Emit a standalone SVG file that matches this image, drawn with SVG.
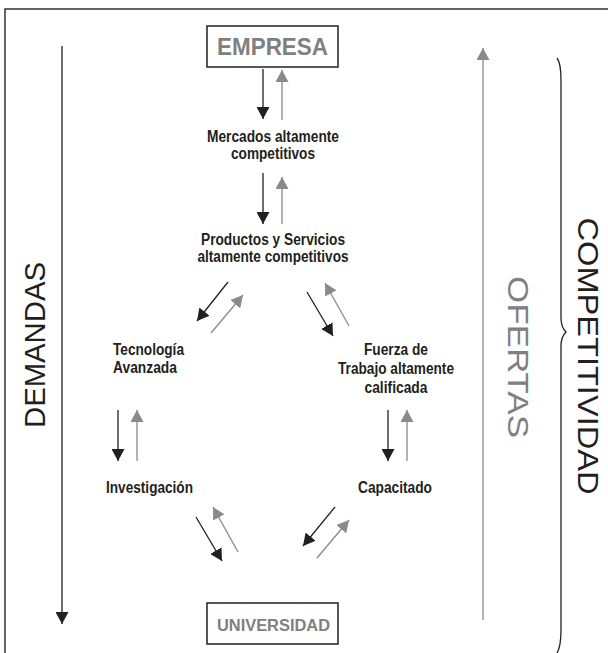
<svg xmlns="http://www.w3.org/2000/svg" width="608" height="653" viewBox="0 0 608 653">
  <defs>
    <marker id="hb" markerUnits="userSpaceOnUse" markerWidth="13" markerHeight="13" refX="12" refY="6.5" orient="auto">
      <path d="M0,0 L12,6.5 L0,13 z" fill="#231f20"/>
    </marker>
    <marker id="hg" markerUnits="userSpaceOnUse" markerWidth="13" markerHeight="13" refX="12" refY="6.5" orient="auto">
      <path d="M0,0 L12,6.5 L0,13 z" fill="#8a8a8a"/>
    </marker>
  </defs>
  <style>
    .bk { stroke: #231f20; stroke-width: 1.3; fill: none; marker-end: url(#hb); }
    .gy { stroke: #8a8a8a; stroke-width: 1.3; fill: none; marker-end: url(#hg); }
    .lbl { font-family: "Liberation Sans", Arial, sans-serif; font-weight: bold; font-size: 16px; fill: #231f20; }
    .box { fill: #ffffff; stroke: #231f20; stroke-width: 1.5; }
    .boxt { font-family: "Liberation Sans", Arial, sans-serif; font-weight: bold; fill: #808080; text-anchor: middle; }
    .big { font-family: "Liberation Sans", Arial, sans-serif; font-size: 30px; text-anchor: middle; }
  </style>
  <rect width="608" height="653" fill="#ffffff"/>
  <path d="M5,653 L5,9 L608,9" fill="none" stroke="#333333" stroke-width="1.5"/>

  <g id="side">
    <line class="bk" x1="62" y1="46" x2="62" y2="624"/>
    <text class="big" fill="#231f20" transform="translate(45,345) rotate(-90)" textLength="166" lengthAdjust="spacingAndGlyphs">DEMANDAS</text>
    <line class="gy" x1="483" y1="620" x2="483" y2="48"/>
    <text class="big" fill="#808080" transform="translate(508,357) rotate(90)" textLength="162" lengthAdjust="spacingAndGlyphs">OFERTAS</text>
    <path d="M557,58 C560,62 561,68 561,80 L561,318 C561,325 563,329 566,332 C563,335 561,339 561,346 L561,630 C561,642 560,648 557,653" fill="none" stroke="#231f20" stroke-width="1.3"/>
    <text class="big" fill="#231f20" transform="translate(578,356) rotate(90)" textLength="277" lengthAdjust="spacingAndGlyphs">COMPETITIVIDAD</text>
  </g>

  <g id="empresa">
    <rect class="box" x="207" y="26" width="131" height="41"/>
    <text class="boxt" x="272.5" y="55" font-size="23" textLength="111" lengthAdjust="spacingAndGlyphs">EMPRESA</text>
  </g>
  <g id="mercados">
    <text class="lbl" text-anchor="middle" x="273" y="142" textLength="132" lengthAdjust="spacingAndGlyphs">Mercados altamente</text>
    <text class="lbl" text-anchor="middle" x="273" y="159" textLength="84" lengthAdjust="spacingAndGlyphs">competitivos</text>
  </g>
  <g id="productos">
    <text class="lbl" text-anchor="middle" x="273" y="245" textLength="144" lengthAdjust="spacingAndGlyphs">Productos y Servicios</text>
    <text class="lbl" text-anchor="middle" x="273" y="262" textLength="151" lengthAdjust="spacingAndGlyphs">altamente competitivos</text>
  </g>
  <g id="tecnologia">
    <text class="lbl" x="113" y="355" textLength="71" lengthAdjust="spacingAndGlyphs">Tecnología</text>
    <text class="lbl" x="113" y="373" textLength="64" lengthAdjust="spacingAndGlyphs">Avanzada</text>
  </g>
  <g id="fuerza">
    <text class="lbl" text-anchor="middle" x="396" y="355" textLength="64" lengthAdjust="spacingAndGlyphs">Fuerza de</text>
    <text class="lbl" text-anchor="middle" x="396" y="374" textLength="116" lengthAdjust="spacingAndGlyphs">Trabajo altamente</text>
    <text class="lbl" text-anchor="middle" x="396" y="393" textLength="63" lengthAdjust="spacingAndGlyphs">calificada</text>
  </g>
  <g id="investigacion">
    <text class="lbl" x="106" y="493" textLength="87" lengthAdjust="spacingAndGlyphs">Investigación</text>
  </g>
  <g id="capacitado">
    <text class="lbl" x="358" y="493" textLength="74" lengthAdjust="spacingAndGlyphs">Capacitado</text>
  </g>
  <g id="universidad">
    <rect class="box" x="207" y="603" width="131" height="41"/>
    <text class="boxt" x="273.5" y="631" font-size="16.5" textLength="113" lengthAdjust="spacingAndGlyphs">UNIVERSIDAD</text>
  </g>

  <g id="connectors">
    <line class="bk" x1="263" y1="69" x2="263" y2="119"/>
    <line class="gy" x1="282" y1="120" x2="282" y2="70"/>
    <line class="bk" x1="263" y1="173" x2="263" y2="224"/>
    <line class="gy" x1="282" y1="224" x2="282" y2="177"/>
    <line class="bk" x1="228" y1="282" x2="197" y2="321"/>
    <line class="gy" x1="211" y1="333" x2="243" y2="295"/>
    <line class="bk" x1="307" y1="292" x2="333" y2="336"/>
    <line class="gy" x1="349" y1="326" x2="325" y2="283"/>
    <line class="bk" x1="118" y1="410" x2="118" y2="461"/>
    <line class="gy" x1="137" y1="461" x2="137" y2="410"/>
    <line class="bk" x1="388" y1="410" x2="388" y2="461"/>
    <line class="gy" x1="407" y1="461" x2="407" y2="410"/>
    <line class="bk" x1="196" y1="517" x2="222" y2="561"/>
    <line class="gy" x1="238" y1="552" x2="213" y2="507"/>
    <line class="bk" x1="335" y1="507" x2="303" y2="546"/>
    <line class="gy" x1="317" y1="558" x2="349" y2="520"/>
  </g>
</svg>
